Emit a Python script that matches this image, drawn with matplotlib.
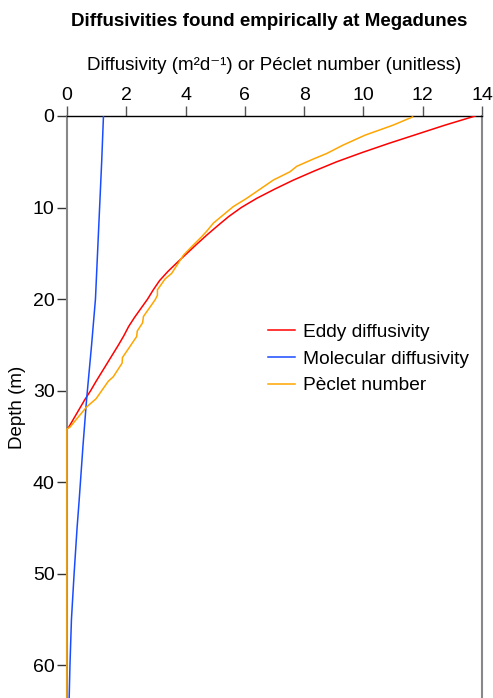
import matplotlib
matplotlib.use("Agg")
import matplotlib.pyplot as plt

plt.rcParams['font.family'] = ['Liberation Sans', 'DejaVu Sans']

# Eddy diffusivity
eddy_depth = [0, 1, 2, 3, 4, 5, 6, 7, 8, 9, 10, 11, 12, 13, 14, 15, 16, 17, 18, 19,
              20, 21, 22, 23, 24, 25, 26, 27, 28, 29, 30, 31, 32, 33, 34, 34.2, 64]
eddy_val = [13.77, 12.75, 11.8, 10.85, 9.95, 9.1, 8.35, 7.64, 7.0, 6.4, 5.88, 5.45, 5.08,
            4.72, 4.38, 4.05, 3.72, 3.4, 3.12, 2.91, 2.72, 2.5, 2.28, 2.08, 1.92, 1.74,
            1.55, 1.36, 1.17, 0.98, 0.8, 0.6, 0.42, 0.24, 0.06, 0.0, 0.0]

# Molecular diffusivity
mol_depth = [0, 5, 10, 15, 20, 25, 31, 36, 42, 45, 50, 55, 60, 64]
mol_val = [1.23, 1.17, 1.1, 1.03, 0.96, 0.83, 0.66, 0.54, 0.41, 0.34, 0.24, 0.15, 0.10, 0.07]

# Peclet number
pec_depth = [0.1, 1.0, 2.1, 3.2, 4.1, 4.7, 5.5, 6.1, 7.0, 8.0, 9.0, 9.9, 11.7, 12.6, 13.2,
             14.1, 15.2, 17.2, 17.8, 19.0, 19.6, 20.1, 21.9, 22.6, 23.5, 24.1, 26.4, 27.0,
             28.5, 29.0, 30.9, 31.8, 32.9, 34.0, 34.2, 64]
pec_val = [11.66, 11.0, 10.05, 9.3, 8.76, 8.31, 7.75, 7.52, 6.96, 6.51, 6.06, 5.61, 4.94,
           4.71, 4.54, 4.26, 3.93, 3.53, 3.31, 3.05, 3.05, 2.97, 2.58, 2.55, 2.37, 2.35,
           1.87, 1.86, 1.56, 1.39, 0.98, 0.66, 0.38, 0.1, 0.0, 0.0]

xticks = [0, 2, 4, 6, 8, 10, 12, 14]
yticks = [0, 10, 20, 30, 40, 50, 60]

fig = plt.figure(figsize=(4.93, 6.98), dpi=100)
ax = fig.add_axes([67/493, 0.0, 415/493, 582/698])

ax.plot(eddy_val, eddy_depth, color='#ff0000', lw=1.1, label='Eddy diffusivity', zorder=3)
ax.plot(mol_val, mol_depth, color='#1a4cff', lw=1.1, label='Molecular diffusivity', zorder=3)
ax.plot(pec_val, pec_depth, color='#ffa500', lw=1.1, label='Pèclet number', zorder=4, clip_on=False)

ax.set_xlim(0, 14)
ax.set_ylim(63.6, 0)
ax.set_xticks(xticks)
ax.set_yticks(yticks)
ax.xaxis.tick_top()
ax.xaxis.set_label_position('top')
ax.tick_params(axis='x', direction='out', length=7, width=1, colors='#555555',
               labelcolor='black', labelsize=14, pad=2)
ax.tick_params(axis='y', direction='out', length=7, width=1, colors='#333333',
               labelcolor='black', labelsize=14, pad=2)

ax.spines['bottom'].set_visible(False)
ax.spines['top'].set_color('black')
ax.spines['top'].set_linewidth(1.0)
ax.spines['left'].set_color('#888888')
ax.spines['left'].set_linewidth(1.5)
ax.spines['right'].set_color('#888888')
ax.spines['right'].set_linewidth(1.5)

ax.set_xlabel('Diffusivity (m\u00b2d\u207b\u00b9) or Péclet number (unitless)', fontsize=13.5, labelpad=12)
ax.set_ylabel('Depth (m)', fontsize=13.5, labelpad=5)

fig.text(0.546, 1 - 21/698, 'Diffusivities found empirically at Megadunes',
         ha='center', va='center', fontsize=13.5, fontweight='bold')

ax.legend(loc='upper left', bbox_to_anchor=(0.484, 0.643), frameon=False, fontsize=13.8,
          handlelength=1.4, handletextpad=0.42, labelspacing=0.48, borderpad=0, borderaxespad=0)

fig.savefig('out.png', dpi=100)
